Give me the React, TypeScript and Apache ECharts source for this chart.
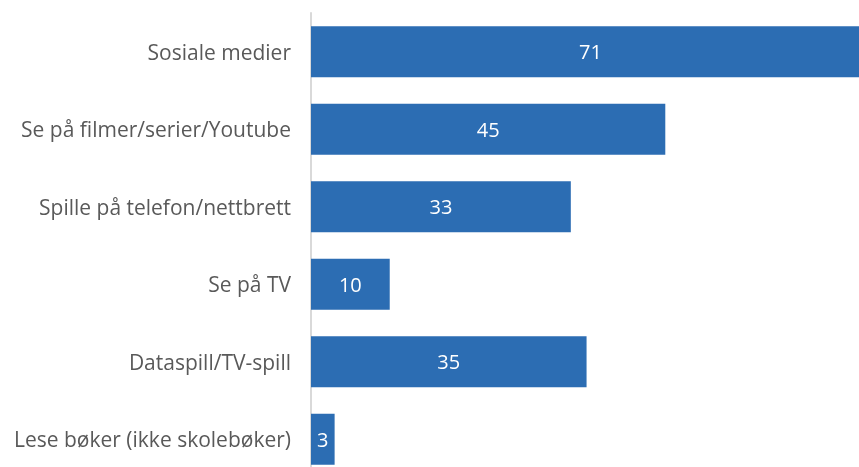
import React, { useEffect, useRef } from "react";
import * as echarts from "echarts";

const categories = [
  "Sosiale medier",
  "Se på filmer/serier/Youtube",
  "Spille på telefon/nettbrett",
  "Se på TV",
  "Dataspill/TV-spill",
  "Lese bøker (ikke skolebøker)",
];
const values = [71, 45, 33, 10, 35, 3];

export default function App() {
  const ref = useRef<HTMLDivElement>(null);
  useEffect(() => {
    if (!ref.current) return;
    const chart = echarts.init(ref.current, undefined, { renderer: "svg" });
    chart.setOption({
      animation: false,
      grid: { left: 311, right: 0, top: 13, bottom: 0, containLabel: false },
      xAxis: {
        type: "value",
        min: 0,
        max: "dataMax",
        show: false,
      },
      yAxis: {
        type: "category",
        data: categories,
        inverse: true,
        axisLine: { show: true, lineStyle: { color: "#d9d9d9", width: 2 } },
        axisTick: { show: false },
        axisLabel: {
          color: "#595959",
          fontSize: 21,
          fontFamily: "Open Sans",
          margin: 20,
        },
      },
      series: [
        {
          type: "bar",
          data: values,
          barWidth: 51,
          itemStyle: { color: "#2c6db3" },
          label: {
            show: true,
            position: "inside",
            color: "#ffffff",
            fontSize: 20,
            fontFamily: "Open Sans",
          },
        },
      ],
    });
    return () => chart.dispose();
  }, []);
  return (
    <div
      style={{
        position: "fixed",
        left: 0,
        top: 0,
        width: 859,
        height: 467,
        overflow: "hidden",
      }}
    >
      <div ref={ref} style={{ width: 870, height: 478 }} />
    </div>
  );
}
